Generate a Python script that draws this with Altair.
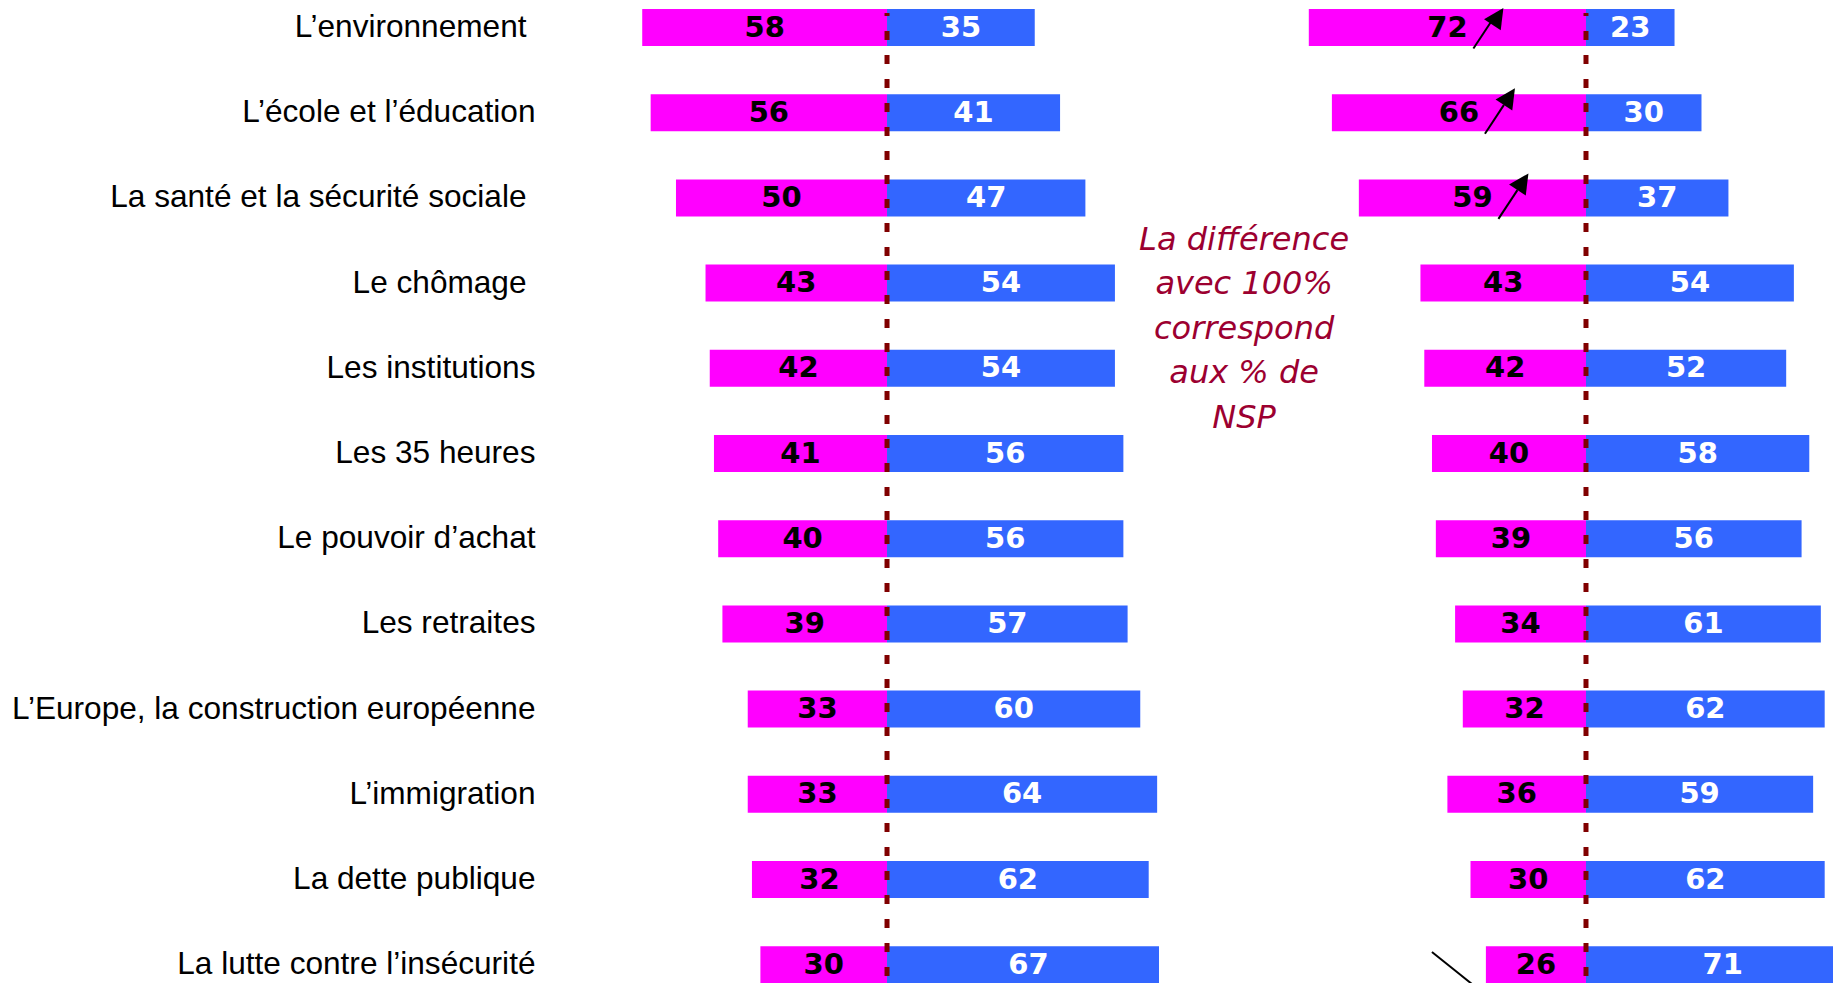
import json
import altair as alt
import pandas as pd

# ---------------- data ----------------
categories = [
    "L’environnement",
    "L’école et l’éducation",
    "La santé et la sécurité sociale",
    "Le chômage",
    "Les institutions",
    "Les 35 heures",
    "Le pouvoir d’achat",
    "Les retraites",
    "L’Europe, la construction européenne",
    "L’immigration",
    "La dette publique",
    "La lutte contre l’insécurité",
]
trailing_space_rows = [0, 2, 3]   # labels written with a trailing blank in the original
left_pink = [58, 56, 50, 43, 42, 41, 40, 39, 33, 33, 32, 30]
left_blue = [35, 41, 47, 54, 54, 56, 56, 57, 60, 64, 62, 67]
right_pink = [72, 66, 59, 43, 42, 40, 39, 34, 32, 36, 30, 26]
right_blue = [23, 30, 37, 54, 52, 58, 56, 61, 62, 59, 62, 71]
arrows_up = [0, 1, 2]      # rows with an upward arrow (right panel)
arrows_down = [11]         # rows with a downward arrow (right panel)
note_lines = ["La différence", "avec 100%", "correspond", "aux % de", "NSP"]

# ---------------- style ----------------
PINK = "#FF00FF"
BLUE = "#3366FF"
DASH = "#800000"
NOTE = "#9C0030"
LABEL_FONT = "Liberation Sans"
NUM_FONT = "DejaVu Sans"

ROW_PX = 85.2
BAR_PX = 37
H = 976
Y0 = -19.5 / ROW_PX
Y1 = Y0 + H / ROW_PX
HALF = BAR_PX / 2 / ROW_PX

WL = 612
XL = [-80.56, 64.44]
WR = 634
XR = [-100.52, 64.16]
KR = WR / (XR[1] - XR[0])


def long_df(pink, blue):
    recs = []
    for i, (c, p, b) in enumerate(zip(categories, pink, blue)):
        for side, s, e, v in (("neg", -p, 0, p), ("pos", 0, b, b)):
            recs.append(dict(cat=c, row=i, top=i - HALF, bot=i + HALF, side=side,
                             start=s, end=e, mid=(s + e) / 2, value=v))
    return pd.DataFrame(recs)


yscale = alt.Scale(domain=[Y0, Y1], reverse=True, nice=False, zero=False, padding=0, clamp=True)

label_expr = "[" + ",".join(json.dumps(c, ensure_ascii=False) for c in categories) + "][datum.value]"
pad_test = "indexof(" + json.dumps(trailing_space_rows) + ", datum.value) >= 0"
left_axis = alt.Axis(
    values=list(range(len(categories))), labelExpr=label_expr, domain=False, ticks=False,
    tickSize=0, grid=False, title=None, labelFont=LABEL_FONT, labelFontSize=31.6,
    labelColor="#000000",
    labelPadding=alt.condition(pad_test, alt.value(21), alt.value(12)),
    labelLimit=1000, minExtent=539, maxExtent=539,
    labelOverlap=False, labelFlush=False, labelAlign="right", labelBaseline="middle",
)


def panel(df, xdomain, width, yaxis, extra=()):
    xs = alt.Scale(domain=xdomain, nice=False, zero=False, padding=0)
    y = alt.Y("row:Q", scale=yscale, axis=yaxis)
    base = alt.Chart(df)
    bars = base.mark_bar(clip=True).encode(
        x=alt.X("start:Q", scale=xs, axis=None),
        x2="end:Q",
        y=alt.Y("top:Q", scale=yscale, axis=yaxis),
        y2="bot:Q",
        color=alt.Color("side:N", scale=alt.Scale(domain=["neg", "pos"], range=[PINK, BLUE]), legend=None),
    )
    rule = alt.Chart(pd.DataFrame({"zero": [0]})).mark_rule(
        color=DASH, strokeWidth=5, strokeDash=[9, 15], strokeDashOffset=6
    ).encode(x=alt.X("zero:Q", scale=xs, axis=None), y=alt.value(5), y2=alt.value(H))
    tneg = base.transform_filter("datum.side == 'neg'").mark_text(
        font=NUM_FONT, fontSize=29, fontWeight="bold", color="#000000", baseline="middle"
    ).encode(x=alt.X("mid:Q", scale=xs, axis=None), y=y, text="value:Q")
    tpos = base.transform_filter("datum.side == 'pos'").mark_text(
        font=NUM_FONT, fontSize=29, fontWeight="bold", color="#FFFFFF", baseline="middle"
    ).encode(x=alt.X("mid:Q", scale=xs, axis=None), y=y, text="value:Q")
    layers = [bars, rule, tneg, tpos] + [e(xs) for e in extra]
    return alt.layer(*layers).properties(width=width, height=H)


# arrows of the right panel, placed next to the pink value labels
lines, heads = [], []
for r in arrows_up:
    tail_x = -right_pink[r] / 2 + 26 / KR
    tip_x, tip_y = tail_x + 30 / KR, r - 24.5 / ROW_PX
    heads.append(dict(x=tip_x, y=tip_y))
    lines.append(dict(x1=tail_x, y1=r + 21 / ROW_PX, x2=tip_x - 11 / KR, y2=tip_y + 16.7 / ROW_PX))
for r in arrows_down:
    tail_x = -right_pink[r] / 2 - 104 / KR
    ty = r - 12.7 / ROW_PX
    lines.append(dict(x1=tail_x, y1=ty, x2=tail_x + 40 / KR, y2=ty + 35 / ROW_PX))
lines_df = pd.DataFrame(lines)
heads_df = pd.DataFrame(heads)

# arrowhead: tip at the origin, pointing up-right (already rotated)
HEAD_PATH = "M0,0L-0.968,0.56L-0.133,1.11Z"


def arrow_lines(xs):
    return alt.Chart(lines_df).mark_rule(color="#000000", strokeWidth=2, clip=True).encode(
        x=alt.X("x1:Q", scale=xs, axis=None), x2="x2:Q",
        y=alt.Y("y1:Q", scale=yscale, axis=None), y2="y2:Q",
    )


def arrow_heads(xs):
    return alt.Chart(heads_df).mark_point(
        shape=HEAD_PATH, size=1600, filled=True, opacity=1, color="#000000", strokeWidth=0,
    ).encode(
        x=alt.X("x:Q", scale=xs, axis=None),
        y=alt.Y("y:Q", scale=yscale, axis=None),
    )


def note(xs):
    # multi-line text: the first line sits at the given y
    return alt.Chart(pd.DataFrame({"note": ["\n".join(note_lines)]})).mark_text(
        font=NUM_FONT, fontStyle="italic", fontSize=32, color=NOTE, lineHeight=44.5,
        lineBreak="\n", align="center", baseline="middle",
    ).encode(
        x=alt.datum(-88.8, scale=xs),
        y=alt.datum(2.494, scale=yscale),
        text="note:N",
    )


left = panel(long_df(left_pink, left_blue), XL, WL, left_axis)
right = panel(long_df(right_pink, right_blue), XR, WR, None, extra=(arrow_lines, arrow_heads, note))

chart = alt.hconcat(left, right, spacing=40, bounds="flush").properties(
    padding=0, background="#FFFFFF"
).configure_view(stroke=None)

chart.save("out.html", embed_options={"renderer": "svg", "actions": False})
